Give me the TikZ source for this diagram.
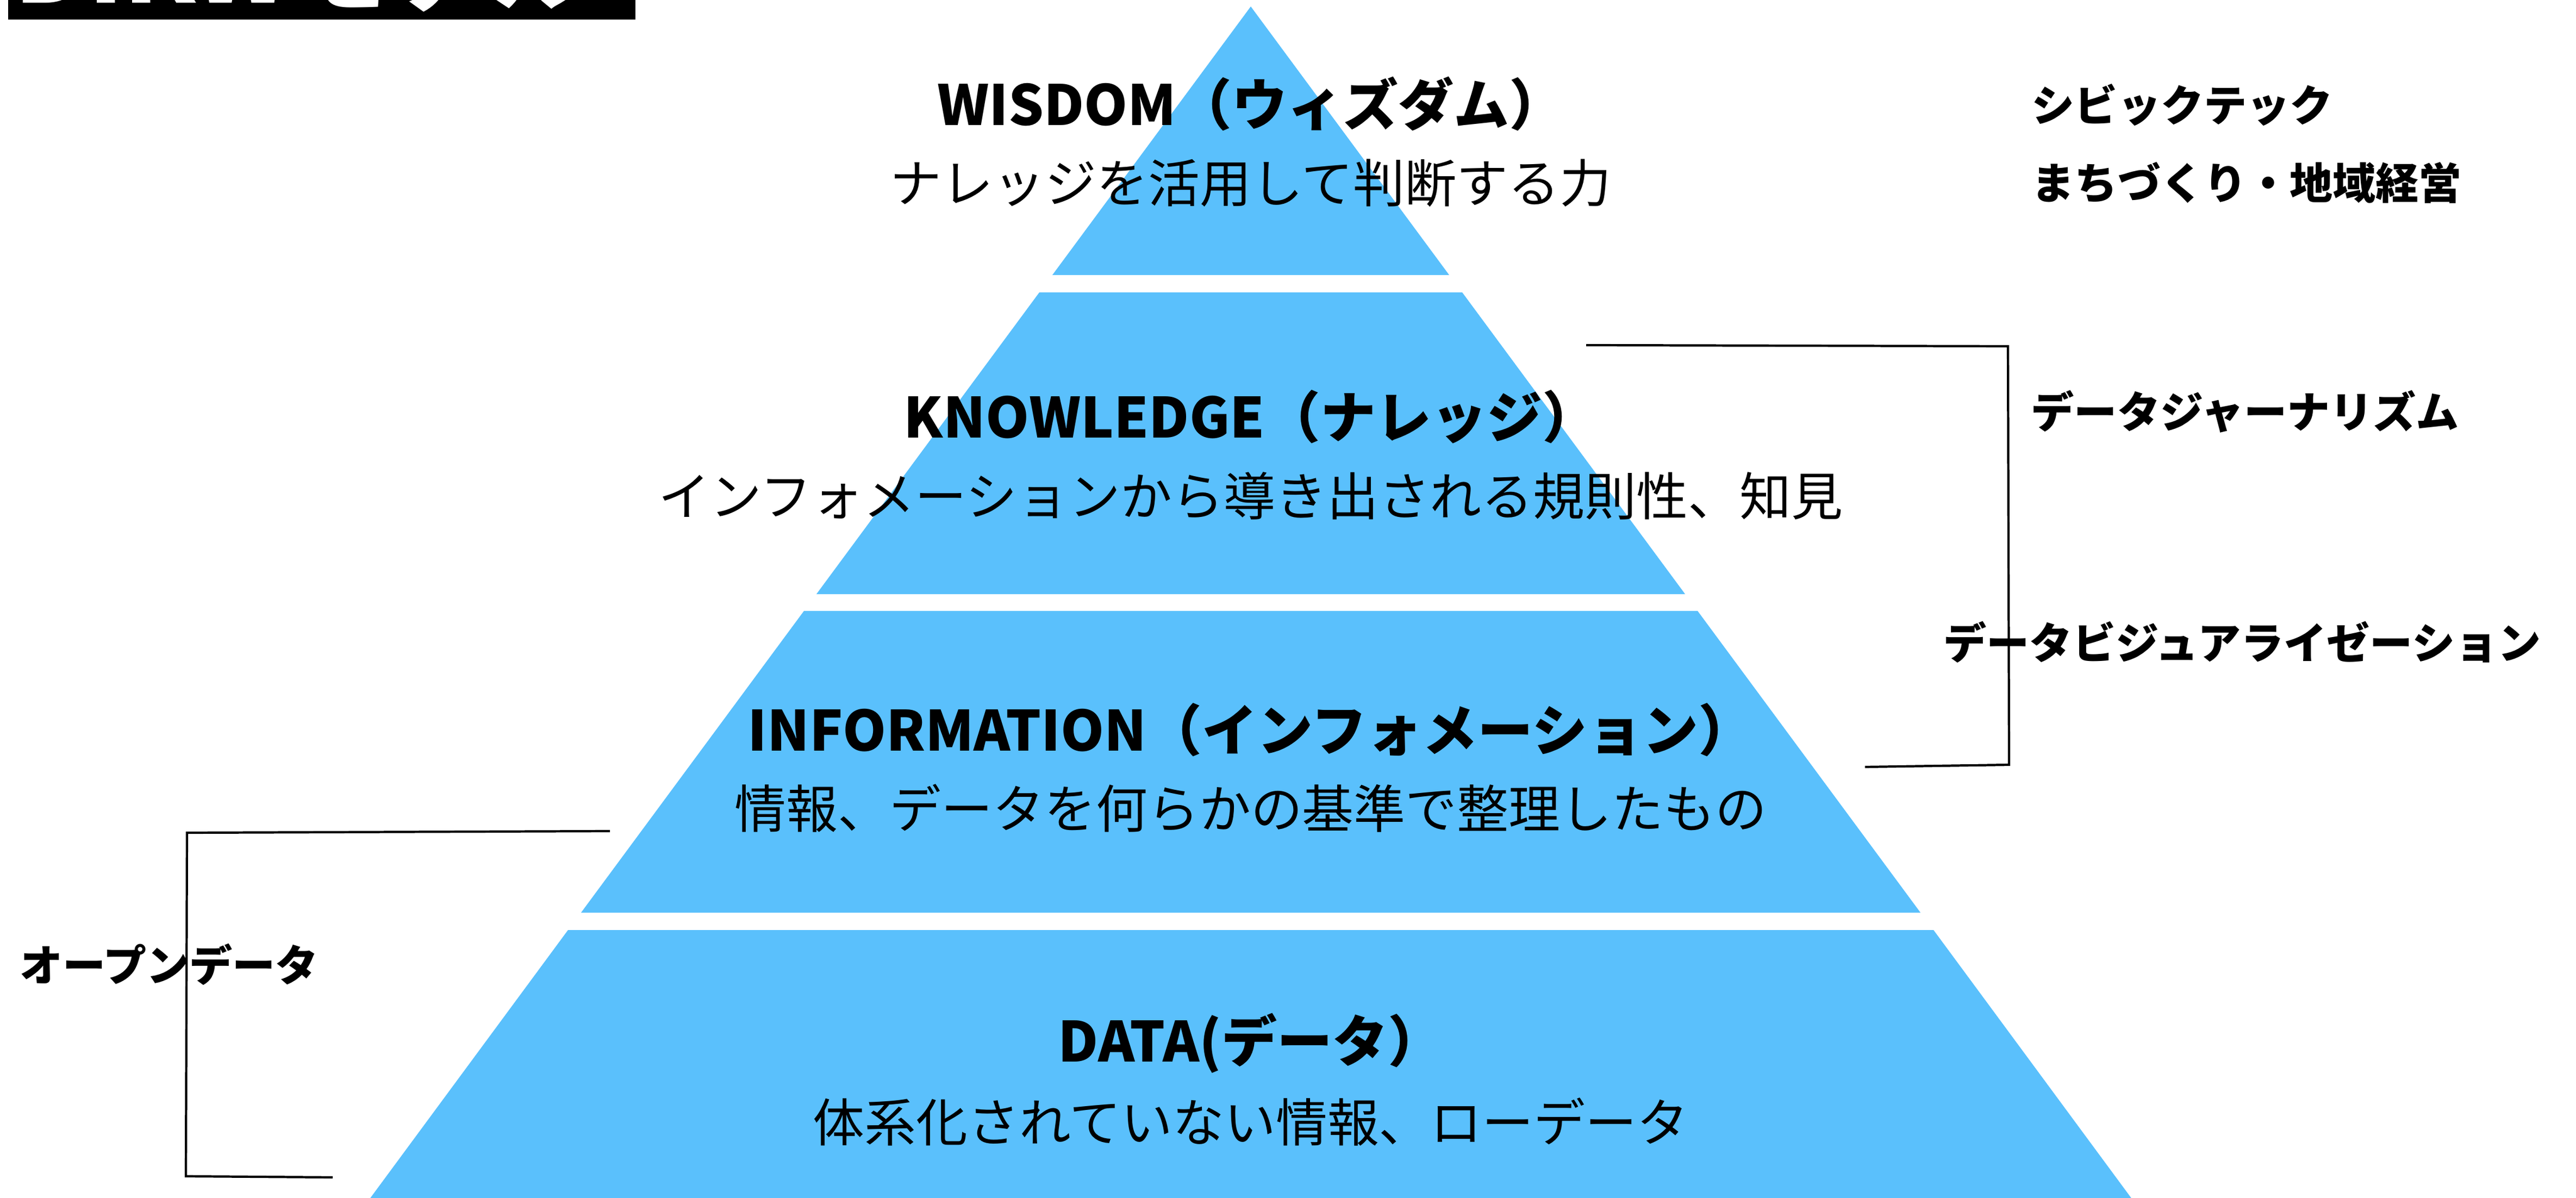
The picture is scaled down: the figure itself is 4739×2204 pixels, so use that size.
\documentclass[tikz,border=0pt]{standalone}
\usepackage{fontspec}
\setmainfont{Noto Sans CJK JP}
\usetikzlibrary{positioning,calc}
\definecolor{pyramidblue}{RGB}{90,192,252}

\begin{document}
\begin{tikzpicture}[
    x=0.01cm, y=-0.01cm,
    layer/.style={fill=pyramidblue},
    title/.style={font=\fontsize{29}{34}\selectfont\bfseries, inner sep=0pt},
    desc/.style={font=\fontsize{27}{32}\selectfont, inner sep=0pt},
    side/.style={font=\fontsize{22.5}{26}\selectfont\bfseries, inner sep=0pt, anchor=west},
    bracket/.style={draw, line width=1.2pt}
]
\useasboundingbox (0,0) rectangle (4739,2204);
\clip (0,0) rectangle (4739,2204);

% Heading box, cut off at the top edge
\fill[black] (15,-250) rectangle (1169,36);
\node[anchor=base west, inner sep=0pt, text=white, font=\fontsize{53}{60}\selectfont\bfseries] (heading) at (26,6) {DIKWモデル};

% Pyramid layers
\fill[layer] (2301,12) -- (2666,506) -- (1936,506) -- cycle;
\fill[layer] (1912,538) -- (2690,538) -- (3100,1093) -- (1502,1093) -- cycle;
\fill[layer] (1479,1124) -- (3123,1124) -- (3533,1679) -- (1069,1679) -- cycle;
\fill[layer] (1045,1711) -- (3557,1711) -- (3962,2260) -- (640,2260) -- cycle;

% Layer texts
\node[title] (wisdom) at (2301,191) {WISDOM（ウィズダム）};
\node[desc] (wisdomtxt) at (2301,337) {ナレッジを活用して判断する力};
\node[title] (knowledge) at (2301,767) {KNOWLEDGE（ナレッジ）};
\node[desc] (knowledgetxt) at (2301,912) {インフォメーションから導き出される規則性、知見};
\node[title] (information) at (2301,1343) {INFORMATION（インフォメーション）};
\node[desc] (informationtxt) at (2301,1487) {情報、データを何らかの基準で整理したもの};
\node[title] (data) at (2301,1919) {DATA(データ）};
\node[desc] (datatxt) at (2301,2064) {体系化されていない情報、ローデータ};

% Side labels
\node[side] (civictech) at (3737,193) {シビックテック};
\node[side] (machi) at (3737,336) {まちづくり・地域経営};
\node[side] (journalism) at (3736,757) {データジャーナリズム};
\node[side] (visual) at (3575,1181) {データビジュアライゼーション};
\node[side] (opendata) at (36,1774) {オープンデータ};

% Brackets
\coordinate (rtop) at (2918,635);
\coordinate (rtopc) at (3694,637);
\coordinate (rbotc) at (3696,1407);
\coordinate (rbot) at (3431,1411);
\draw[bracket] (rtop) -- (rtopc) -- (rbotc) -- (rbot);

\coordinate (ltop) at (1122,1529);
\coordinate (ltopc) at (344,1532);
\coordinate (lbotc) at (342,2164);
\coordinate (lbot) at (612,2166);
\draw[bracket] (ltop) -- (ltopc) -- (lbotc) -- (lbot);

\end{tikzpicture}
\end{document}
